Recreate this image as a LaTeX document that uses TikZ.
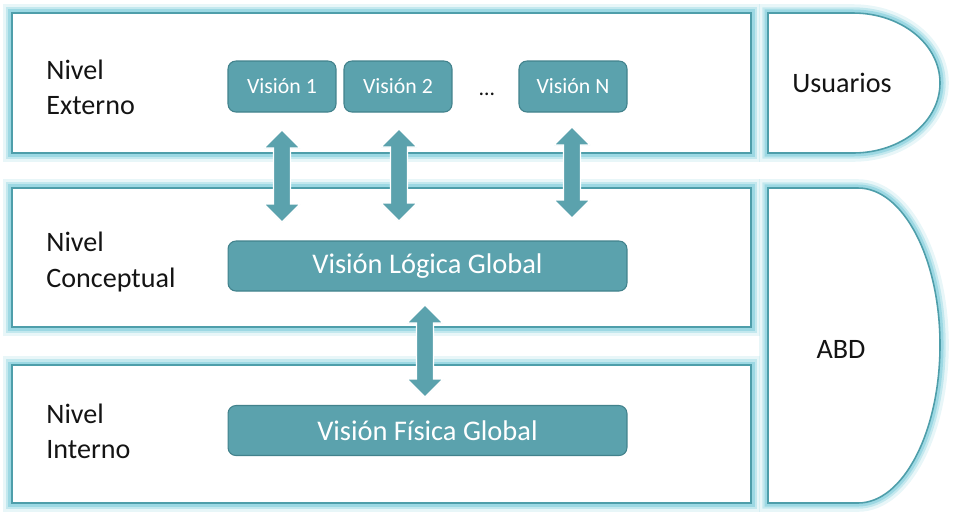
\documentclass[tikz,border=0pt]{standalone}
\usepackage{fontspec}
\setmainfont{Carlito}
\usetikzlibrary{calc}
\definecolor{tealfill}{RGB}{91,162,173}
\definecolor{tealdark}{RGB}{66,130,140}
\definecolor{tealline}{RGB}{78,158,170}
\definecolor{glowc}{RGB}{140,210,222}
\definecolor{labeltext}{RGB}{20,20,20}
\newcommand\DArrow[2]{%
  \filldraw[dblarrow] (#1) -- ++(18,18) -- ++(-9.5,0) -- ($(#2)+(8.5,-18)$) -- ++(9.5,0)
    -- (#2) -- ++(-18,-18) -- ++(9.5,0) -- ($(#1)+(-8.5,18)$) -- ++(-9.5,0) -- cycle;}
\begin{document}
\begin{tikzpicture}[x=0.02cm,y=-0.02cm,
  glowshape/.style={draw=tealline, line width=0.9pt, fill=white,
    preaction={draw=glowc, line width=10pt, opacity=.2},
    preaction={draw=glowc, line width=6.5pt, opacity=.4},
    preaction={draw=glowc, line width=4pt, opacity=.7}},
  leveltext/.style={anchor=west, align=left, font=\fontsize{16}{20}\selectfont, text=labeltext, inner sep=0pt},
  roletext/.style={font=\fontsize{16}{20}\selectfont, text=labeltext, inner sep=0pt},
  vbox/.style={draw=tealdark, line width=0.6pt, fill=tealfill, rounded corners=4.5pt,
    text=white, font=\fontsize{12.4}{15}\selectfont, minimum width=2.16cm, minimum height=1.02cm, inner sep=0pt},
  gbox/.style={draw=tealdark, line width=0.6pt, fill=tealfill, rounded corners=4.5pt,
    text=white, font=\fontsize{16.2}{20}\selectfont, minimum width=7.98cm, minimum height=1.0cm, inner sep=0pt},
  dblarrow/.style={fill=tealfill, draw=white, line width=0.7pt}]
\useasboundingbox (0,0) rectangle (955,515);
% level boxes
\draw[glowshape] (12,13) rectangle (751,153);
\draw[glowshape] (12,188) rectangle (751,327);
\draw[glowshape] (12,365) rectangle (751,503);
% role shapes
\draw[glowshape] (768,13) -- (853,13) .. controls (901,13) and (940,44) .. (940,83)
  .. controls (940,122) and (901,153) .. (853,153) -- (768,153) -- cycle;
\draw[glowshape] (768,188) -- (858,188) .. controls (903,188) and (940,258) .. (940,345)
  .. controls (940,432) and (903,503) .. (858,503) -- (768,503) -- cycle;
% labels
\node[leveltext] (lext) at (46,87) {Nivel\\Externo};
\node[leveltext] (lcon) at (46,262) {Nivel\\Conceptual};
\node[leveltext] (lint) at (46,431) {Nivel\\Interno};
\node[roletext] (usr) at (842,83) {Usuarios};
\node[roletext] (abd) at (841,349) {ABD};
% vision boxes
\node[vbox] (v1) at (282,86.5) {Visión 1};
\node[vbox] (v2) at (398,86.5) {Visión 2};
\node[font=\fontsize{12.4}{15}\selectfont, text=labeltext, anchor=base] (dots) at (487,95) {…};
\node[vbox] (vN) at (573,86.5) {Visión N};
\node[gbox] (lg) at (427.5,266) {Visión Lógica Global};
\node[gbox] (fg) at (427.5,430.5) {Visión Física Global};
% arrows
\coordinate (a1t) at (282,130); \coordinate (a1b) at (282,222);
\coordinate (a2t) at (399,129); \coordinate (a2b) at (399,221);
\coordinate (a3t) at (572,127); \coordinate (a3b) at (572,218);
\coordinate (a4t) at (425,305); \coordinate (a4b) at (425,397);
\DArrow{a1t}{a1b}
\DArrow{a2t}{a2b}
\DArrow{a3t}{a3b}
\DArrow{a4t}{a4b}
\end{tikzpicture}
\end{document}
